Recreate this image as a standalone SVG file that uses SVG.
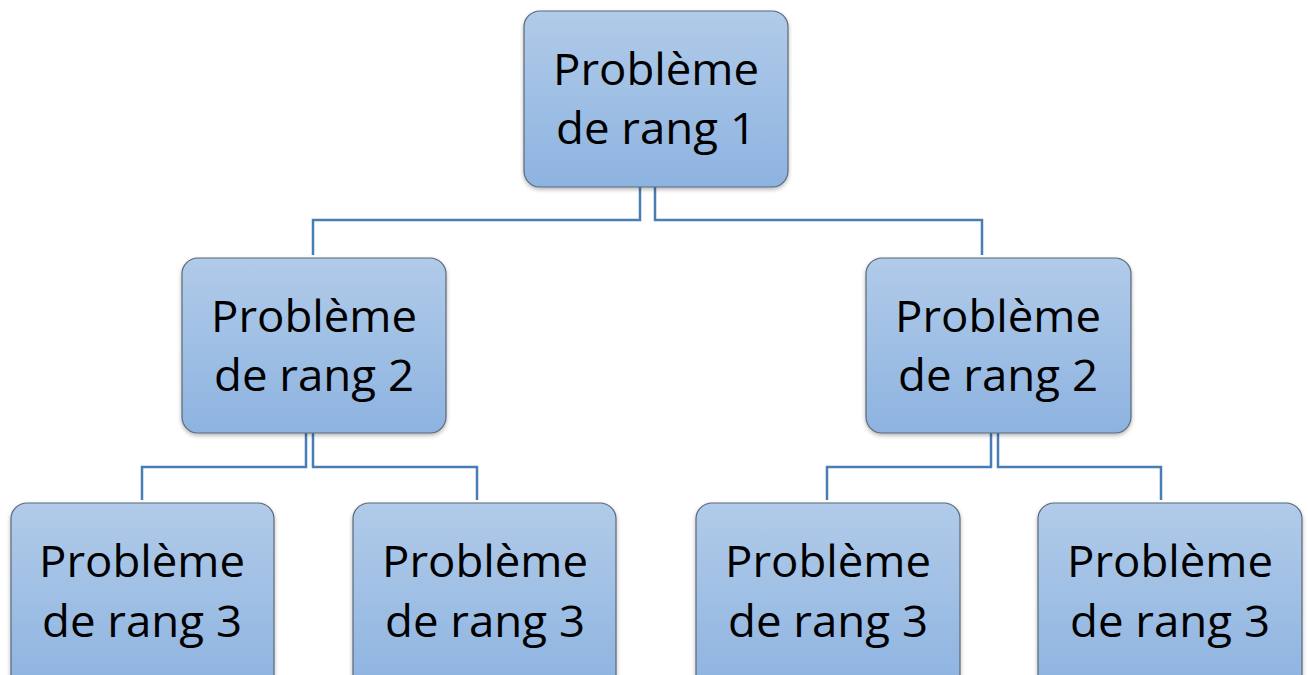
<svg xmlns="http://www.w3.org/2000/svg" width="1308" height="675" viewBox="0 0 1308 675">
<defs>
<linearGradient id="g" x1="0" y1="0" x2="0" y2="1">
<stop offset="0" stop-color="#b1cbe9"/>
<stop offset="1" stop-color="#8db3e0"/>
</linearGradient>
<filter id="sh" x="-10%" y="-10%" width="120%" height="125%">
<feGaussianBlur in="SourceAlpha" stdDeviation="2"/>
<feOffset dx="0" dy="2" result="b"/>
<feComponentTransfer><feFuncA type="linear" slope="0.3"/></feComponentTransfer>
<feMerge><feMergeNode/><feMergeNode in="SourceGraphic"/></feMerge>
</filter>
</defs>
<style>
.box{fill:url(#g);stroke:#5b6878;stroke-width:1.2;filter:url(#sh)}
.t{font-family:"Open Sans","Noto Sans",sans-serif;font-size:43px;fill:#000;text-anchor:middle}
.c{fill:none;stroke:#4a7db4;stroke-width:2.5}
</style>
<rect width="1308" height="675" fill="#fff"/>
<g id="connectors">
<polyline class="c" points="640,187 640,220 313,220 313,255"/>
<polyline class="c" points="655,187 655,220 982,220 982,255"/>
<polyline class="c" points="306,433 306,467 142,467 142,500"/>
<polyline class="c" points="313,433 313,467 477,467 477,500"/>
<polyline class="c" points="991,433 991,467 827,467 827,500"/>
<polyline class="c" points="998,433 998,467 1161,467 1161,500"/>
</g>
<g id="n1">
<rect class="box" x="524" y="11" width="264" height="176" rx="16"/>
<text class="t" x="656" y="85" textLength="206" lengthAdjust="spacingAndGlyphs">Problème</text>
<text class="t" x="656" y="144" textLength="200" lengthAdjust="spacingAndGlyphs">de rang 1</text>
</g>
<g id="n2a">
<rect class="box" x="182" y="258" width="264" height="175" rx="16"/>
<text class="t" x="314" y="332" textLength="206" lengthAdjust="spacingAndGlyphs">Problème</text>
<text class="t" x="314" y="391" textLength="200" lengthAdjust="spacingAndGlyphs">de rang 2</text>
</g>
<g id="n2b">
<rect class="box" x="866" y="258" width="265" height="175" rx="16"/>
<text class="t" x="998" y="332" textLength="206" lengthAdjust="spacingAndGlyphs">Problème</text>
<text class="t" x="998" y="391" textLength="200" lengthAdjust="spacingAndGlyphs">de rang 2</text>
</g>
<g id="n3a">
<rect class="box" x="11" y="503" width="263" height="190" rx="16"/>
<text class="t" x="142" y="577" textLength="206" lengthAdjust="spacingAndGlyphs">Problème</text>
<text class="t" x="142" y="637" textLength="200" lengthAdjust="spacingAndGlyphs">de rang 3</text>
</g>
<g id="n3b">
<rect class="box" x="353" y="503" width="263" height="190" rx="16"/>
<text class="t" x="485" y="577" textLength="206" lengthAdjust="spacingAndGlyphs">Problème</text>
<text class="t" x="485" y="637" textLength="200" lengthAdjust="spacingAndGlyphs">de rang 3</text>
</g>
<g id="n3c">
<rect class="box" x="696" y="503" width="264" height="190" rx="16"/>
<text class="t" x="828" y="577" textLength="206" lengthAdjust="spacingAndGlyphs">Problème</text>
<text class="t" x="828" y="637" textLength="200" lengthAdjust="spacingAndGlyphs">de rang 3</text>
</g>
<g id="n3d">
<rect class="box" x="1038" y="503" width="264" height="190" rx="16"/>
<text class="t" x="1170" y="577" textLength="206" lengthAdjust="spacingAndGlyphs">Problème</text>
<text class="t" x="1170" y="637" textLength="200" lengthAdjust="spacingAndGlyphs">de rang 3</text>
</g>
</svg>
